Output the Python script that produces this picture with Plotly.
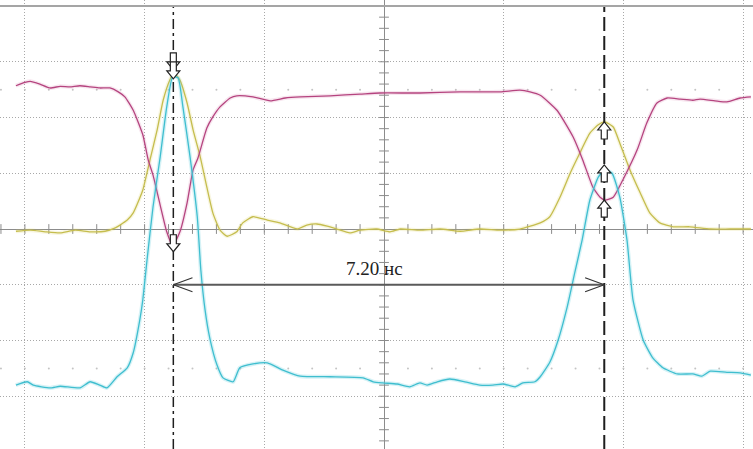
import plotly.graph_objects as go

# ---- data (time in ns, amplitude in divisions) ----
magenta_pts = [(-6.15, 2.57), (-6.00, 2.63), (-5.91, 2.65), (-5.75, 2.60), (-5.58, 2.53), (-5.41, 2.56),
               (-5.25, 2.55), (-5.08, 2.57), (-4.91, 2.55), (-4.75, 2.53), (-4.58, 2.53), (-4.44, 2.46),
               (-4.33, 2.37), (-4.19, 2.13), (-4.03, 1.69), (-3.94, 1.24), (-3.86, 0.97), (-3.74, 0.43),
               (-3.63, -0.05), (-3.53, -0.30), (-3.41, -0.05), (-3.29, 0.47), (-3.19, 1.06), (-3.11, 1.27),
               (-2.96, 1.81), (-2.86, 2.01), (-2.74, 2.19), (-2.57, 2.35), (-2.46, 2.39), (-2.19, 2.37),
               (-1.90, 2.30), (-1.65, 2.35), (-1.40, 2.37), (-0.90, 2.39), (-0.40, 2.42), (-0.07, 2.44),
               (0.60, 2.44), (1.27, 2.46), (1.94, 2.46), (2.27, 2.49), (2.44, 2.46), (2.61, 2.40),
               (2.89, 2.13), (3.16, 1.65), (3.32, 1.24), (3.49, 0.75), (3.61, 0.57), (3.69, 0.52),
               (3.83, 0.57), (3.99, 0.88), (4.23, 1.42), (4.39, 1.90), (4.56, 2.26), (4.73, 2.35),
               (4.95, 2.33), (5.16, 2.31), (5.28, 2.33), (5.53, 2.30), (5.73, 2.28), (5.95, 2.35),
               (6.13, 2.37)]

yellow_pts = [(-6.15, -0.04), (-5.91, -0.02), (-5.66, -0.05), (-5.41, -0.07), (-5.16, -0.02), (-4.91, -0.05),
              (-4.66, -0.04), (-4.49, 0.02), (-4.41, 0.07), (-4.29, 0.16), (-4.19, 0.29), (-4.11, 0.48),
              (-4.03, 0.70), (-3.91, 1.24), (-3.79, 1.78), (-3.69, 2.31), (-3.58, 2.67), (-3.51, 2.80),
              (-3.41, 2.67), (-3.29, 2.26), (-3.19, 1.78), (-3.07, 1.29), (-2.96, 0.75), (-2.86, 0.29),
              (-2.74, -0.02), (-2.62, -0.13), (-2.46, -0.05), (-2.36, 0.11), (-2.19, 0.22), (-1.95, 0.16),
              (-1.74, 0.11), (-1.45, 0.00), (-1.29, 0.07), (-1.12, 0.09), (-0.95, 0.05), (-0.79, 0.00),
              (-0.57, -0.07), (-0.40, -0.02), (-0.12, 0.00), (0.10, -0.05), (0.27, 0.00), (0.60, -0.02),
              (0.94, 0.00), (1.27, -0.04), (1.60, 0.00), (1.94, -0.02), (2.27, 0.00), (2.61, 0.11),
              (2.77, 0.22), (2.94, 0.57), (3.11, 1.00), (3.27, 1.36), (3.44, 1.72), (3.58, 1.87),
              (3.69, 1.92), (3.83, 1.83), (3.94, 1.54), (4.11, 1.06), (4.28, 0.65), (4.44, 0.29),
              (4.61, 0.11), (4.83, 0.04), (5.11, 0.04), (5.45, 0.00), (5.78, 0.00), (6.13, 0.00)]

cyan_pts = [(-6.15, -2.80), (-5.96, -2.74), (-5.86, -2.80), (-5.58, -2.85), (-5.41, -2.82), (-5.08, -2.85),
            (-4.91, -2.74), (-4.75, -2.80), (-4.63, -2.85), (-4.46, -2.65), (-4.29, -2.49), (-4.19, -2.22),
            (-4.08, -1.63), (-4.03, -1.27), (-3.96, -0.56), (-3.86, 0.39), (-3.74, 1.29), (-3.63, 2.19),
            (-3.53, 2.73), (-3.44, 2.71), (-3.36, 2.19), (-3.24, 1.29), (-3.12, 0.22), (-3.06, -0.74),
            (-2.99, -1.45), (-2.91, -1.96), (-2.79, -2.44), (-2.69, -2.67), (-2.52, -2.74), (-2.41, -2.49),
            (-2.19, -2.42), (-1.95, -2.40), (-1.69, -2.53), (-1.40, -2.64), (-0.90, -2.65), (-0.35, -2.67),
            (-0.18, -2.74), (-0.02, -2.76), (0.22, -2.78), (0.43, -2.83), (0.60, -2.76), (0.72, -2.80),
            (0.89, -2.74), (1.10, -2.69), (1.35, -2.74), (1.60, -2.80), (1.82, -2.80), (1.99, -2.78),
            (2.19, -2.83), (2.32, -2.76), (2.52, -2.74), (2.61, -2.65), (2.77, -2.39), (2.91, -1.99),
            (3.06, -1.40), (3.19, -0.77), (3.31, -0.20), (3.44, 0.52), (3.58, 0.93), (3.69, 1.06),
            (3.81, 1.00), (3.94, 0.57), (4.06, -0.20), (4.16, -1.27), (4.33, -1.99), (4.49, -2.31),
            (4.66, -2.49), (4.90, -2.60), (5.16, -2.60), (5.31, -2.64), (5.45, -2.55), (5.73, -2.57),
            (5.95, -2.58), (6.13, -2.62)]

cursor_a = -3.52          # ns
cursor_b = 3.68           # ns
delta_label = "7.20 нс"
meas_level = -1.0         # division of the measurement arrow
time_div = 2.0            # ns per division
minor_t = 0.4             # ns per minor tick
minor_v = 0.2             # div per minor tick
mark_rows = [2.5, -2.5]   # rows of faint graticule dots

# ---- view geometry ----
X_RANGE = [-6.416, 6.165]
Y_RANGE = [-3.946, 4.108]
TOP = 4.0

MAG = "#b5447f"
YEL = "#c5bd4e"
CYA = "#3fbecf"

fig = go.Figure()

# graticule minor ticks on the centre axes
tt = [k * minor_t for k in range(-16, 16) if abs(k * minor_t) > 1e-9]
vv = [k * minor_v for k in range(-20, 21) if abs(k * minor_v) > 1e-9 and k * minor_v <= TOP]
fig.add_trace(go.Scatter(x=tt, y=[0] * len(tt), mode="markers",
                         marker=dict(symbol="line-ns", size=7, line=dict(color="#8c8c8c", width=1)),
                         hoverinfo="skip", showlegend=False))
fig.add_trace(go.Scatter(x=[0] * len(vv), y=vv, mode="markers",
                         marker=dict(symbol="line-ew", size=7, line=dict(color="#8c8c8c", width=1)),
                         hoverinfo="skip", showlegend=False))
for r in mark_rows:
    fig.add_trace(go.Scatter(x=tt, y=[r] * len(tt), mode="markers",
                             marker=dict(symbol="circle", size=2, color="#c4c4c4"),
                             hoverinfo="skip", showlegend=False))


def add_wave(pts, color, halo):
    xs = [p[0] for p in pts]
    ys = [p[1] for p in pts]
    fig.add_trace(go.Scatter(x=xs, y=ys, mode="lines", line=dict(color=halo, width=4, shape="spline", smoothing=0.5),
                             hoverinfo="skip", showlegend=False))
    fig.add_trace(go.Scatter(x=xs, y=ys, mode="lines", line=dict(color=color, width=1.3, shape="spline", smoothing=0.5),
                             hoverinfo="skip", showlegend=False))


add_wave(yellow_pts, YEL, "rgba(215,205,90,0.18)")
add_wave(magenta_pts, MAG, "rgba(200,90,150,0.15)")
add_wave(cyan_pts, CYA, "rgba(90,205,220,0.25)")

# cursors
fig.add_trace(go.Scatter(x=[cursor_a, cursor_a], y=[Y_RANGE[0], TOP], mode="lines",
                         line=dict(color="#1e1e1e", width=1.5, dash="10px,4px,3px,4px"),
                         hoverinfo="skip", showlegend=False))
fig.add_trace(go.Scatter(x=[cursor_b, cursor_b], y=[Y_RANGE[0], TOP], mode="lines",
                         line=dict(color="#1e1e1e", width=2, dash="14px,5px"),
                         hoverinfo="skip", showlegend=False))

# measurement arrow
fig.add_trace(go.Scatter(x=[cursor_a, cursor_b], y=[meas_level, meas_level], mode="lines",
                         line=dict(color="#5a5a5a", width=2), hoverinfo="skip", showlegend=False))
hx, hy = 0.32, 0.125
fig.add_trace(go.Scatter(x=[cursor_a + hx, cursor_a, cursor_a + hx], y=[meas_level + hy, meas_level, meas_level - hy],
                         mode="lines", line=dict(color="#333", width=1.2), hoverinfo="skip", showlegend=False))
fig.add_trace(go.Scatter(x=[cursor_b - hx, cursor_b, cursor_b - hx], y=[meas_level + hy, meas_level, meas_level - hy],
                         mode="lines", line=dict(color="#333", width=1.2), hoverinfo="skip", showlegend=False))


def near(pts, c, w=0.6):
    return [v for t, v in pts if abs(t - c) <= w]


shapes = [dict(type="line", xref="paper", x0=0, x1=1, yref="y", y0=TOP, y1=TOP,
               line=dict(color="#a5a5a5", width=2))]


def arrow(tx, vy, up, dy=0):
    s = -1 if up else 1
    pts = [(0, 0), (-6.5, 8), (-3, 8), (-3, 17), (3, 17), (3, 8), (6.5, 8)]
    path = "M" + " L".join(f"{x},{s * y + dy}" for x, y in pts) + " Z"
    return dict(type="path", xref="x", yref="y", xsizemode="pixel", ysizemode="pixel",
                xanchor=tx, yanchor=vy, path=path, fillcolor="white",
                line=dict(color="#222", width=1.2), layer="above")


shapes.append(arrow(cursor_a, max(near(yellow_pts, cursor_a)), up=False, dy=3))
shapes.append(arrow(cursor_a, max(near(cyan_pts, cursor_a)), up=False, dy=-2))
shapes.append(arrow(cursor_a, min(near(magenta_pts, cursor_a)), up=False, dy=-6))
shapes.append(arrow(cursor_b, max(near(yellow_pts, cursor_b)), up=True))
shapes.append(arrow(cursor_b, max(near(cyan_pts, cursor_b)), up=True, dy=5))
shapes.append(arrow(cursor_b, min(near(magenta_pts, cursor_b)), up=True))

fig.update_layout(
    width=753, height=449,
    margin=dict(l=0, r=0, t=0, b=0),
    paper_bgcolor="white", plot_bgcolor="white",
    showlegend=False,
    shapes=shapes,
    annotations=[dict(x=(cursor_a + cursor_b) / 2, y=meas_level + 0.30, xref="x", yref="y",
                      text=delta_label, showarrow=False, xshift=-14,
                      font=dict(family="Liberation Serif", size=19, color="#222"))],
    xaxis=dict(range=X_RANGE, dtick=time_div, tick0=0, showgrid=True, gridcolor="#a8a8a8",
               griddash="1px,2px", gridwidth=1, zeroline=True, zerolinecolor="#8c8c8c", zerolinewidth=1,
               showticklabels=False, ticks="", showline=False, fixedrange=True),
    yaxis=dict(range=Y_RANGE, dtick=1, tick0=0, showgrid=True, gridcolor="#a8a8a8",
               griddash="1px,2px", gridwidth=1, zeroline=True, zerolinecolor="#8c8c8c", zerolinewidth=1,
               showticklabels=False, ticks="", showline=False, fixedrange=True),
)

fig.write_html("out.html")
